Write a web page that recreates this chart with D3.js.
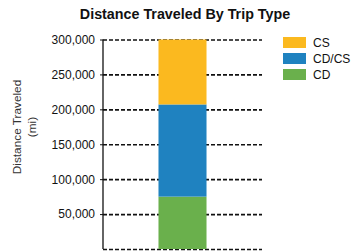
<!DOCTYPE html>
<html>
<head>
<meta charset="utf-8">
<script src="https://cdn.jsdelivr.net/npm/d3@7"></script>
<style>
  body { margin: 0; background: #fff; }
  svg { font-family: "Liberation Sans", Arial, sans-serif; }
</style>
</head>
<body>
<div id="chart"></div>
<script>
// chart size
var w = 353;
var h = 252;

// data
var categories = ["All Trips"];
var seriesNames = ["CD", "CD/CS", "CS"];
var cdValues = [75000];
var cdcsValues = [132000];
var csValues = [93000];
var tickValues = [0, 50000, 100000, 150000, 200000, 250000, 300000];
var colors = { "CD": "#6ab04c", "CD/CS": "#1f82c0", "CS": "#fbb91f" };

var rows = categories.map(function(c, i) {
  return { cat: c, "CD": cdValues[i], "CD/CS": cdcsValues[i], "CS": csValues[i] };
});

var stack = d3.stack().keys(seriesNames);
var stacked = stack(rows);

// plot area edges
var plotLeft = 103, plotRight = 262, plotTop = 39.5, plotBottom = 249;

var xScale = d3.scaleBand()
  .domain(categories)
  .range([plotLeft, plotRight])
  .padding(0.536);

var yScale = d3.scaleLinear()
  .domain([0, 300000])
  .range([plotBottom, plotTop]);

var svg = d3.select("#chart").append("svg")
  .attr("width", w)
  .attr("height", h);

// title
svg.append("text")
  .attr("x", 185)
  .attr("y", 19)
  .attr("text-anchor", "middle")
  .attr("font-size", "14.3px")
  .attr("font-weight", "bold")
  .attr("fill", "#111")
  .text("Distance Traveled By Trip Type");

// dashed gridlines
var grid = svg.append("g")
  .attr("transform", "translate(" + plotLeft + ",0)")
  .call(d3.axisLeft(yScale).tickValues(tickValues).tickSize(-(plotRight - plotLeft)).tickFormat(""));
grid.select(".domain").remove();
grid.selectAll("line")
  .attr("stroke", "#111")
  .attr("stroke-width", 1.7)
  .attr("stroke-dasharray", "4,2");

// stacked bar
svg.selectAll(".layer")
  .data(stacked)
  .enter()
  .append("g")
  .attr("class", "layer")
  .attr("fill", function(d) { return colors[d.key]; })
  .selectAll("rect")
  .data(function(d) { return d; })
  .enter()
  .append("rect")
  .attr("x", function(d) { return xScale(d.data.cat); })
  .attr("y", function(d) { return yScale(d[1]); })
  .attr("width", xScale.bandwidth())
  .attr("height", function(d) { return yScale(d[0]) - yScale(d[1]); });

// y axis
var yAxis = svg.append("g")
  .attr("transform", "translate(" + plotLeft + ",0)")
  .call(d3.axisLeft(yScale).tickValues(tickValues.slice(1)).tickSize(3).tickPadding(5)
    .tickFormat(d3.format(",")));
yAxis.select(".domain").attr("stroke", "#111").attr("stroke-width", 1.3)
  .attr("d", "M0," + plotTop + "V" + plotBottom);
yAxis.selectAll("line").attr("stroke", "#111");
yAxis.selectAll("text")
  .attr("font-size", "12px")
  .attr("font-family", "Liberation Sans, Arial, sans-serif")
  .attr("fill", "#111");

// y axis title
var yTitle = svg.append("text")
  .attr("transform", "translate(21,127) rotate(-90)")
  .attr("text-anchor", "middle")
  .attr("font-size", "11.8px")
  .attr("fill", "#333");
yTitle.append("tspan").attr("x", 0).attr("dy", 0).text("Distance Traveled");
yTitle.append("tspan").attr("x", 0).attr("dy", "1.3em").text("(mi)");

// legend
var legendOrder = ["CS", "CD/CS", "CD"];
var legend = svg.selectAll(".legend")
  .data(legendOrder)
  .enter()
  .append("g")
  .attr("class", "legend")
  .attr("transform", function(d, i) { return "translate(283," + (37 + i * 16) + ")"; });

legend.append("rect")
  .attr("width", 23)
  .attr("height", 11)
  .attr("fill", function(d) { return colors[d]; });

legend.append("text")
  .attr("x", 30)
  .attr("y", 10)
  .attr("font-size", "12px")
  .attr("fill", "#111")
  .text(function(d) { return d; });
</script>
</body>
</html>
